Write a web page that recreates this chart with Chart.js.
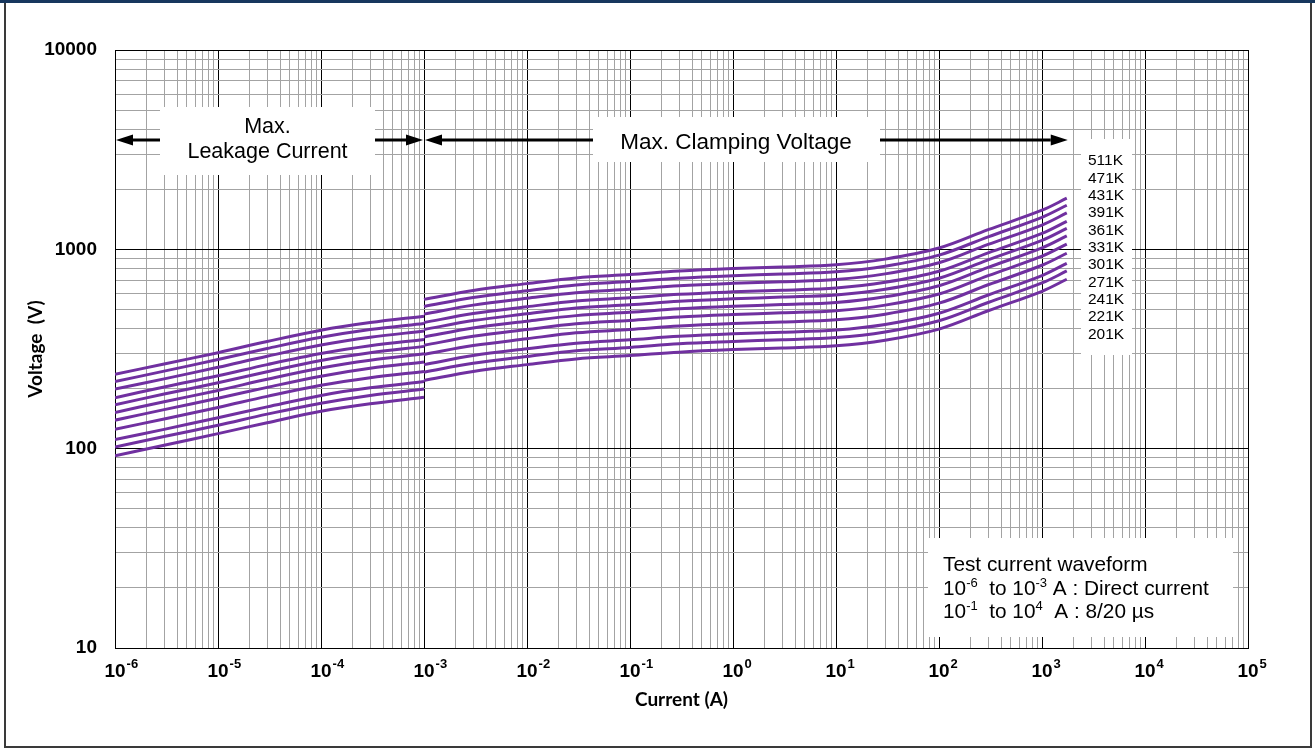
<!DOCTYPE html>
<html>
<head>
<meta charset="utf-8">
<title>Varistor V-I characteristics</title>
<script src="https://cdn.jsdelivr.net/npm/chart.js@4.4.0/dist/chart.umd.min.js"></script>
<style>
    html, body { margin: 0; padding: 0; background: #fff; }
    #wrap { width: 1315px; height: 749px; }
</style>
</head>
<body>
<div id="wrap"><canvas id="viChart" width="1315" height="749"></canvas></div>
<script>
// part numbers, top curve first
const partLabels = ['511K', '471K', '431K', '391K', '361K', '331K', '301K', '271K', '241K', '221K', '201K'];

// max. leakage current region (DC, 1e-6 .. 1e-3 A)
const leakCurrent = [1e-6, 3e-6, 1e-5, 3e-5, 1e-4, 3e-4, 1e-3];
const leakVoltage = [
    [236, 266, 303, 345, 393, 429, 462],
    [217, 245, 280, 318, 362, 396, 425],
    [199, 224, 256, 291, 331, 362, 389],
    [180, 204, 232, 264, 300, 328, 353],
    [166, 188, 214, 243, 277, 303, 326],
    [152, 172, 196, 223, 254, 278, 299],
    [139, 157, 179, 203, 231, 253, 272],
    [125, 141, 161, 183, 208, 227, 244],
    [111, 125, 143, 162, 185, 202, 217],
    [102, 115, 131, 149, 169, 185, 199],
    [92, 104, 119, 135, 154, 168, 181]
];

// max. clamping voltage region (8/20 us)
const clampCurrent = [1e-3, 3e-3, 1e-2, 3e-2, 1e-1, 3e-1, 1, 3, 10, 30, 100, 300, 1000, 1740];
const clampVoltage = [
    [561, 622, 673, 719, 747, 778, 801, 816, 836, 893, 1015, 1255, 1571, 1805],
    [517, 573, 620, 663, 689, 717, 738, 752, 771, 823, 935, 1156, 1448, 1664],
    [473, 525, 568, 606, 630, 656, 675, 688, 705, 753, 856, 1058, 1324, 1522],
    [429, 476, 515, 550, 571, 595, 612, 624, 640, 683, 776, 959, 1201, 1381],
    [396, 439, 475, 508, 527, 549, 565, 576, 590, 630, 716, 886, 1109, 1274],
    [363, 403, 436, 465, 483, 503, 518, 528, 541, 578, 657, 812, 1016, 1168],
    [330, 366, 396, 423, 440, 458, 471, 480, 492, 525, 597, 738, 924, 1062],
    [297, 329, 356, 381, 396, 412, 424, 432, 443, 473, 537, 664, 832, 956],
    [264, 293, 317, 338, 352, 366, 377, 384, 394, 420, 478, 590, 739, 850],
    [242, 268, 290, 310, 322, 336, 345, 352, 361, 385, 438, 541, 678, 779],
    [220, 244, 264, 282, 293, 305, 314, 320, 328, 350, 398, 492, 616, 708]
];

// axis decades (exponents) and the minor steps inside each decade
const xDecades = [-6, -5, -4, -3, -2, -1, 0, 1, 2, 3, 4, 5];
const yDecades = [1, 2, 3, 4];
const minorSteps = [1, 2, 3, 4, 5, 6, 7, 8, 9];

const curveColor = '#7030a0';
const textFont = '"Liberation Sans", Arial, sans-serif';

function isDecade(v) {
    const e = Math.log10(v);
    return Math.abs(e - Math.round(e)) < 1e-9;
}

function logTicks(decades) {
    const ticks = [];
    for (let i = 0; i < decades.length - 1; i++) {
        minorSteps.forEach(m => ticks.push({ value: m * Math.pow(10, decades[i]) }));
    }
    ticks.push({ value: Math.pow(10, decades[decades.length - 1]) });
    return ticks;
}

function gridColor(ctx) {
    return isDecade(ctx.tick.value) ? '#000000' : '#a3a3a3';
}

function curve(label, xs, ys) {
    return {
        label: label,
        data: xs.map((c, j) => ({ x: c, y: ys[j] })),
        borderColor: curveColor,
        backgroundColor: curveColor,
        borderWidth: 3,
        pointRadius: 0,
        fill: false,
        tension: 0.35
    };
}

// two segments per part: leakage + clamping
const datasets = [];
partLabels.forEach((name, i) => {
    datasets.push(curve(name + ' leakage', leakCurrent, leakVoltage[i]));
    datasets.push(curve(name + ' clamping', clampCurrent, clampVoltage[i]));
});

function drawArrow(ctx, xFrom, xTo, y) {
    // arrow head sits at xTo
    const dir = xTo > xFrom ? 1 : -1;
    const head = 17;
    ctx.strokeStyle = '#000';
    ctx.fillStyle = '#000';
    ctx.lineWidth = 3;
    ctx.beginPath();
    ctx.moveTo(xFrom, y);
    ctx.lineTo(xTo - dir * head, y);
    ctx.stroke();
    ctx.beginPath();
    ctx.moveTo(xTo, y);
    ctx.lineTo(xTo - dir * head, y - 5.5);
    ctx.lineTo(xTo - dir * head, y + 5.5);
    ctx.closePath();
    ctx.fill();
}

function drawRich(ctx, parts, x, y) {
    ctx.textAlign = 'left';
    ctx.textBaseline = 'alphabetic';
    parts.forEach(p => {
        ctx.font = (p.sup ? '13px ' : '20.8px ') + textFont;
        ctx.fillText(p.t, x, p.sup ? y - 8 : y);
        x += ctx.measureText(p.t).width;
    });
}

const framePlugin = {
    id: 'frame',
    beforeDraw(chart) {
        const ctx = chart.ctx;
        ctx.save();
        ctx.fillStyle = '#fff';
        ctx.fillRect(0, 0, chart.width, chart.height);
        ctx.strokeStyle = '#3a3a3a';
        ctx.lineWidth = 2;
        ctx.strokeRect(5, 2, 1306, 745);
        ctx.fillStyle = '#17375e';
        ctx.fillRect(0, 0, chart.width, 3);
        ctx.restore();
    }
};

const notesPlugin = {
    id: 'notes',
    afterDraw(chart) {
        const ctx = chart.ctx;
        const xs = chart.scales.x;
        const xLeak0 = xs.getPixelForValue(leakCurrent[0]);
        const xSplit = xs.getPixelForValue(leakCurrent[leakCurrent.length - 1]);
        const xClampEnd = xs.getPixelForValue(clampCurrent[clampCurrent.length - 1]);
        ctx.save();

        // white label boxes over the grid
        ctx.fillStyle = '#fff';
        ctx.fillRect(160, 107, 215, 68);
        ctx.fillRect(593, 117, 287, 45);
        ctx.fillRect(1081, 139, 51, 216);
        ctx.fillRect(928, 538, 305, 99);

        // range arrows
        drawArrow(ctx, 160, xLeak0 + 1, 140);
        drawArrow(ctx, 375, xSplit - 1, 140);
        drawArrow(ctx, 593, xSplit + 1, 140);
        drawArrow(ctx, 880, xClampEnd + 1, 140);

        ctx.fillStyle = '#000';
        ctx.textAlign = 'center';
        ctx.textBaseline = 'alphabetic';
        ctx.font = '21.5px ' + textFont;
        ctx.fillText('Max.', 267.5, 133);
        ctx.fillText('Leakage Current', 267.5, 158);
        ctx.font = '22.5px ' + textFont;
        ctx.fillText('Max. Clamping Voltage', 736, 149);

        // part numbers
        ctx.textAlign = 'left';
        ctx.textBaseline = 'middle';
        ctx.font = '15.5px ' + textFont;
        partLabels.forEach((name, i) => ctx.fillText(name, 1088, 161 + i * 17.33));

        // test waveform note
        drawRich(ctx, [{ t: 'Test current waveform' }], 943, 571);
        drawRich(ctx, [{ t: '10' }, { t: '-6', sup: true }, { t: '  to 10' }, { t: '-3', sup: true },
            { t: ' A : Direct current' }], 943, 595);
        drawRich(ctx, [{ t: '10' }, { t: '-1', sup: true }, { t: '  to 10' }, { t: '4', sup: true },
            { t: '  A : 8/20 \u00b5s' }], 943, 618);

        // x tick labels as 10 with superscript exponent
        xDecades.forEach(e => {
            const px = xs.getPixelForValue(Math.pow(10, e));
            ctx.font = 'bold 19px ' + textFont;
            ctx.textAlign = 'center';
            ctx.textBaseline = 'alphabetic';
            ctx.fillText('10', px, 677);
            const w = ctx.measureText('10').width;
            ctx.font = 'bold 13px ' + textFont;
            ctx.textAlign = 'left';
            ctx.fillText(String(e), px + w / 2 + 1, 668);
        });
        ctx.restore();
    }
};

new Chart(document.getElementById('viChart'), {
    type: 'line',
    data: { datasets: datasets },
    options: {
        responsive: false,
        devicePixelRatio: 1,
        animation: false,
        layout: { padding: { left: 0, top: 50, right: 67, bottom: 0 } },
        plugins: {
            legend: { display: false },
            tooltip: { enabled: false }
        },
        scales: {
            x: {
                type: 'logarithmic',
                min: 1e-6,
                max: 1e5,
                afterBuildTicks: s => { s.ticks = logTicks(xDecades); },
                afterFit: s => { s.height = 101; },
                ticks: { display: false, autoSkip: false },
                grid: { color: gridColor, lineWidth: 1, drawTicks: false },
                border: { display: true, color: '#000', width: 1 },
                title: {
                    display: true,
                    text: 'Current (A)',
                    color: '#000',
                    font: { family: 'Lato', weight: 'bold', size: 19 },
                    padding: { top: 0, bottom: 38 }
                }
            },
            y: {
                type: 'logarithmic',
                min: 10,
                max: 10000,
                afterBuildTicks: s => { s.ticks = logTicks(yDecades); },
                afterFit: s => { s.width = 115; },
                ticks: {
                    autoSkip: false,
                    padding: 18,
                    color: '#000',
                    font: { family: 'Liberation Sans', weight: 'bold', size: 19 },
                    callback: v => isDecade(v) ? String(v) : ''
                },
                grid: { color: gridColor, lineWidth: 1, drawTicks: false },
                border: { display: true, color: '#000', width: 1 },
                title: {
                    display: true,
                    text: 'Voltage  (V)',
                    color: '#000',
                    font: { family: 'Lato', weight: 'bold', size: 19 },
                    padding: { top: 24, bottom: 0 }
                }
            }
        }
    },
    plugins: [framePlugin, notesPlugin]
});
</script>
</body>
</html>
